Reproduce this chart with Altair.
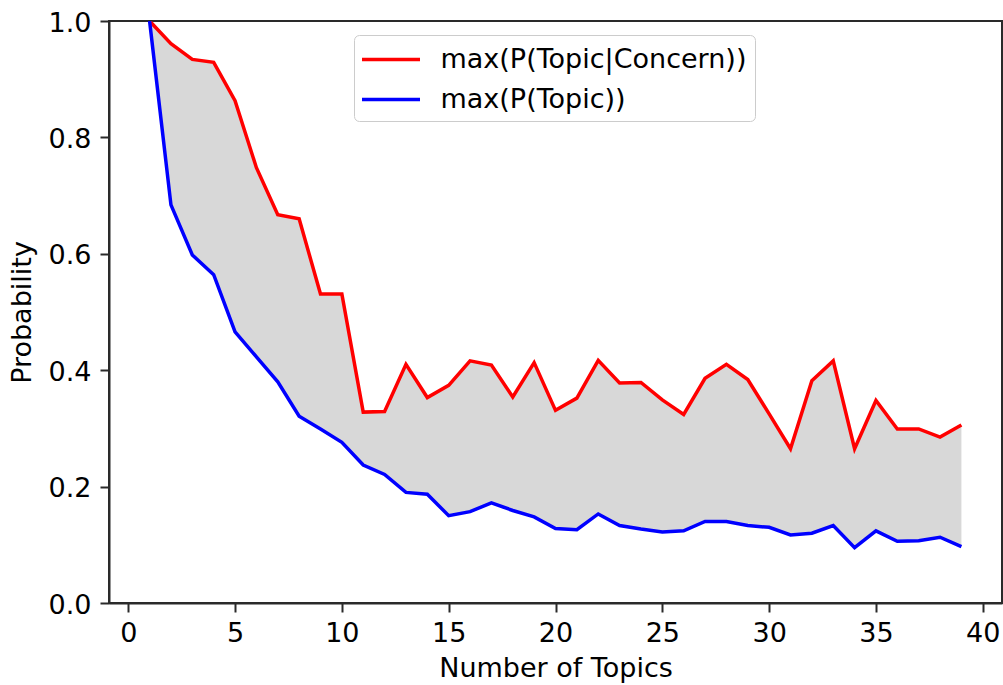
import altair as alt
import pandas as pd

# Number of topics in the model
topics = list(range(1, 40))

# Largest conditional topic probability given a concern
p_topic_given_concern = [
    1.000, 0.961, 0.934, 0.929, 0.863, 0.748, 0.667, 0.660, 0.531, 0.531,
    0.328, 0.329, 0.410, 0.353, 0.374, 0.416, 0.409, 0.354, 0.413, 0.331,
    0.352, 0.417, 0.378, 0.379, 0.349, 0.324, 0.386, 0.410, 0.384, 0.325,
    0.265, 0.382, 0.416, 0.265, 0.348, 0.299, 0.299, 0.285, 0.306,
]

# Largest marginal topic probability
p_topic = [
    1.000, 0.684, 0.598, 0.564, 0.466, 0.423, 0.380, 0.321, 0.299, 0.276,
    0.237, 0.221, 0.190, 0.187, 0.150, 0.157, 0.172, 0.159, 0.148, 0.128,
    0.126, 0.153, 0.133, 0.127, 0.122, 0.124, 0.140, 0.140, 0.133, 0.130,
    0.117, 0.120, 0.133, 0.095, 0.124, 0.106, 0.107, 0.113, 0.097,
]

series_names = ["max(P(Topic|Concern))", "max(P(Topic))"]
series_colors = ["#ff0000", "#0000ff"]

x_ticks = [0, 5, 10, 15, 20, 25, 30, 35, 40]
y_ticks = [0.0, 0.2, 0.4, 0.6, 0.8, 1.0]

FONT = "DejaVu Sans"
FS = 27
INK = "#2a2a2a"

wide = pd.DataFrame({"topics": topics, "upper": p_topic_given_concern, "lower": p_topic})
long = pd.concat(
    [
        pd.DataFrame({"topics": topics, "prob": p_topic_given_concern, "series": series_names[0]}),
        pd.DataFrame({"topics": topics, "prob": p_topic, "series": series_names[1]}),
    ],
    ignore_index=True,
)

x_enc = alt.X(
    "topics:Q",
    scale=alt.Scale(domain=[-0.9, 40.9], nice=False, zero=False),
    axis=alt.Axis(
        values=x_ticks,
        title="Number of Topics",
        format="d",
        labelPadding=8,
        titlePadding=9,
    ),
)
y_axis = alt.Axis(
    values=y_ticks,
    title="Probability",
    format=".1f",
    labelPadding=9,
    titlePadding=12,
    labelOffset=2,
)
y_scale = alt.Scale(domain=[0, 1], nice=False, zero=False)

band = (
    alt.Chart(wide)
    .mark_area(color="#d8d8d8", opacity=1, clip=True)
    .encode(
        x=x_enc,
        y=alt.Y("upper:Q", scale=y_scale, axis=y_axis),
        y2="lower:Q",
    )
)

lines = (
    alt.Chart(long)
    .mark_line(strokeWidth=3.5, clip=True)
    .encode(
        x=x_enc,
        y=alt.Y("prob:Q", scale=y_scale, axis=y_axis),
        color=alt.Color(
            "series:N",
            scale=alt.Scale(domain=series_names, range=series_colors),
            legend=alt.Legend(
                title=None,
                orient="none",
                legendX=245,
                legendY=14,
                direction="vertical",
                symbolType="M-2,0L2,0",
                symbolSize=841,
                symbolStrokeWidth=3.5,
                symbolOffset=12.5,
                labelOffset=33,
                rowPadding=10,
                padding=8,
                cornerRadius=5,
                strokeColor="#cccccc",
                fillColor="rgba(255,255,255,0.8)",
                labelFont=FONT,
                labelFontSize=FS,
                labelColor="#000000",
                labelLimit=500,
            ),
        ),
        order="series_order:Q",
    )
    .transform_calculate(series_order="datum.series == 'max(P(Topic))' ? 1 : 0")
)

chart = (
    alt.layer(band, lines)
    .properties(
        width=893,
        height=582,
        autosize=alt.AutoSizeParams(type="none"),
        padding={"left": 109, "top": 21, "right": 1, "bottom": 82},
        background="white",
    )
    .configure_view(stroke=INK, strokeWidth=2)
    .configure_axis(
        grid=False,
        domainColor=INK,
        domainWidth=2,
        tickColor=INK,
        tickWidth=2,
        tickSize=9,
        labelFont=FONT,
        labelFontSize=FS,
        labelColor="#000000",
        titleFont=FONT,
        titleFontSize=FS,
        titleFontWeight="normal",
        titleColor="#000000",
        labelOverlap=False,
        labelFlush=False,
    )
)

chart.save("out.html", embed_options={"renderer": "svg", "actions": False})
